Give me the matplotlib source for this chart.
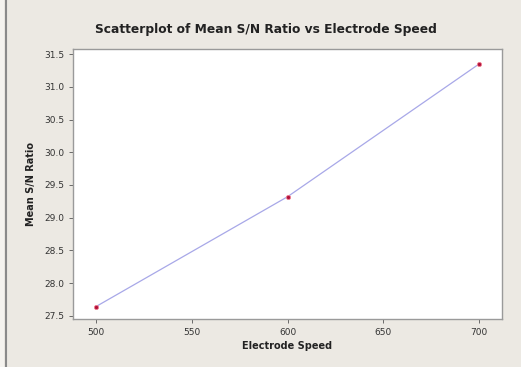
import matplotlib.pyplot as plt
from matplotlib.lines import Line2D

speed = [500, 600, 700]
sn_ratio = [27.64, 29.32, 31.35]
x_ticks = [500, 550, 600, 650, 700]
y_ticks = [27.5, 28.0, 28.5, 29.0, 29.5, 30.0, 30.5, 31.0, 31.5]

fig = plt.figure(figsize=(5.21, 3.67), dpi=100, facecolor='#ECE9E3')
ax = fig.add_axes([73 / 521, 1 - 319 / 367, 429 / 521, 270 / 367])
ax.set_facecolor('white')

# line + markers
ax.plot(speed, sn_ratio, color='#A8A8E8', linewidth=0.9, zorder=2)
ax.scatter(speed, sn_ratio, s=9, color='#B0103A', edgecolors='#F08090',
           linewidths=0.6, zorder=3)

ax.set_xlim(488, 712)
ax.set_ylim(27.45, 31.58)
ax.set_xticks(x_ticks)
ax.set_yticks(y_ticks)
ax.set_yticklabels([f"{v:.1f}" for v in y_ticks])

ax.tick_params(axis='both', labelsize=6.5, colors='#555555', length=3,
               width=0.6, labelcolor='#333333')
for s in ax.spines.values():
    s.set_color('#9A9A9A')
    s.set_linewidth(1.0)

fig.text(266 / 521, 1 - 30 / 367, 'Scatterplot of Mean S/N Ratio vs Electrode Speed',
         fontsize=8.8, fontweight='bold', color='#222222', ha='center', va='center')
ax.set_xlabel('Electrode Speed', fontsize=7, fontweight='bold', labelpad=3,
              color='#222222')
ax.set_ylabel('Mean S/N Ratio', fontsize=7, fontweight='bold', labelpad=6,
              color='#222222')

# window border on the left
fig.add_artist(Line2D([6 / 521, 6 / 521], [0, 1], transform=fig.transFigure,
                      color='#8A8A8A', linewidth=1.5))
fig.add_artist(Line2D([2 / 521, 2 / 521], [0, 1], transform=fig.transFigure,
                      color='#F5F3EF', linewidth=3))

fig.savefig('out.png', dpi=100, facecolor=fig.get_facecolor())
